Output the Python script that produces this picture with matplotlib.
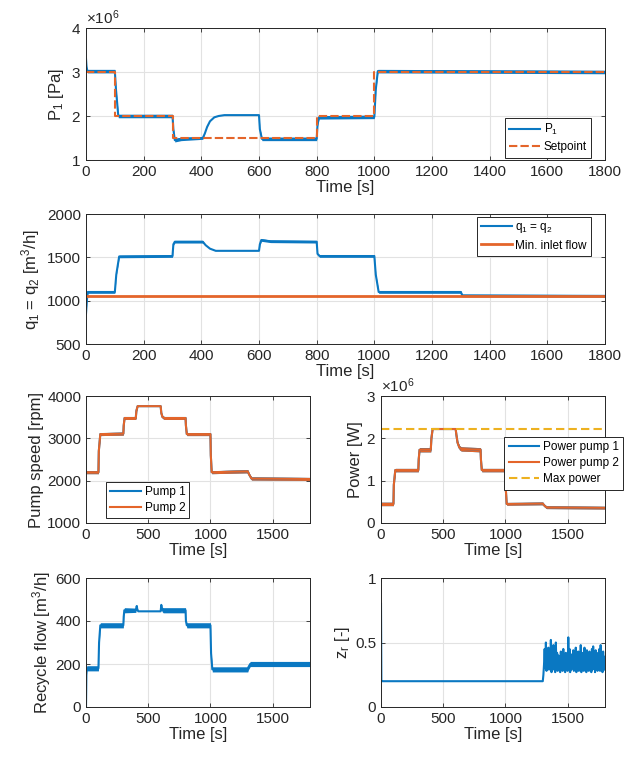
import numpy as np
import matplotlib
matplotlib.use('Agg')
import matplotlib.pyplot as plt
from matplotlib import ticker

plt.rcParams['font.family'] = ['Liberation Sans', 'DejaVu Sans']
plt.rcParams['mathtext.fontset'] = 'custom'
plt.rcParams['mathtext.rm'] = 'Liberation Sans'
plt.rcParams['mathtext.it'] = 'Liberation Sans:italic'
plt.rcParams['mathtext.default'] = 'regular'

BLUE = '#0A78C2'
ORANGE = '#E4652A'
YELLOW = '#EDB120'
INK = '#262626'

# ---- data (breakpoints of each signal) ----
# P1 [x1e6 Pa]
t_p1 = [0, 2, 5, 100, 104, 112, 300, 303, 308, 330, 405, 412, 420, 430, 445, 460, 480, 600, 603, 610, 800, 803, 808, 1000, 1005, 1012, 1800]
p1 = [3.3, 3.1, 3.02, 3.02, 2.6, 2.0, 2.0, 1.7, 1.45, 1.48, 1.5, 1.6, 1.75, 1.88, 1.97, 2.0, 2.02, 2.02, 1.7, 1.48, 1.48, 1.8, 1.97, 1.98, 2.6, 3.02, 3.0]
p1_noise = [0.04, 0.04, 0.04, 0.04, 0.03, 0.04, 0.04, 0.03, 0.04, 0.04, 0.03, 0, 0, 0, 0, 0, 0, 0, 0.03, 0.04, 0.04, 0.03, 0.04, 0.04, 0.03, 0.04, 0.04]
t_sp = [0, 100, 100, 300, 300, 800, 800, 1000, 1000, 1800]
sp = [3, 3, 2, 2, 1.5, 1.5, 2, 2, 3, 3]

# q1 = q2 [m3/h]
t_q = [0, 3, 6, 100, 105, 115, 300, 303, 308, 405, 415, 430, 450, 600, 603, 608, 640, 800, 803, 810, 1000, 1005, 1015, 1300, 1305, 1800]
q = [850, 1000, 1100, 1100, 1300, 1510, 1515, 1650, 1680, 1680, 1640, 1600, 1575, 1575, 1650, 1700, 1685, 1680, 1540, 1515, 1515, 1300, 1100, 1100, 1060, 1055]
q_noise = [0, 15, 15, 15, 10, 15, 15, 10, 15, 15, 0, 0, 0, 0, 10, 15, 15, 15, 10, 15, 15, 10, 15, 15, 15, 15]
t_qmin = [0, 1800]
qmin = [1050, 1050]

# pump speed [rpm], both pumps equal
t_n = [0, 100, 103, 115, 300, 303, 310, 400, 405, 415, 600, 605, 615, 630, 800, 803, 810, 1000, 1003, 1010, 1300, 1310, 1330, 1800]
n = [2200, 2200, 2700, 3100, 3110, 3300, 3480, 3480, 3650, 3760, 3760, 3600, 3500, 3480, 3480, 3300, 3100, 3100, 2600, 2200, 2220, 2150, 2050, 2040]
n_noise = [35, 35, 25, 35, 35, 25, 35, 35, 20, 0, 0, 10, 30, 35, 35, 25, 35, 35, 25, 35, 35, 30, 35, 35]

# power [x1e6 W]
t_w = [0, 100, 103, 115, 300, 303, 310, 400, 405, 415, 600, 605, 615, 630, 645, 800, 803, 810, 1000, 1003, 1010, 1300, 1310, 1330, 1800]
w = [0.45, 0.45, 0.9, 1.25, 1.25, 1.5, 1.73, 1.73, 2.0, 2.22, 2.22, 2.1, 1.9, 1.78, 1.75, 1.73, 1.5, 1.25, 1.25, 0.8, 0.45, 0.46, 0.42, 0.37, 0.36]
w_noise = [0.04, 0.04, 0.03, 0.04, 0.04, 0.03, 0.05, 0.05, 0.02, 0, 0, 0.01, 0.04, 0.05, 0.05, 0.05, 0.03, 0.04, 0.04, 0.03, 0.03, 0.03, 0.03, 0.03, 0.03]
w_max = 2.22

# recycle flow [m3/h]
t_r = [0, 3, 6, 100, 105, 115, 300, 303, 308, 400, 408, 412, 420, 600, 605, 610, 620, 800, 803, 810, 1000, 1005, 1015, 1300, 1305, 1320, 1800]
r = [0, 150, 180, 180, 300, 380, 380, 420, 450, 450, 470, 455, 445, 445, 475, 455, 450, 450, 400, 380, 380, 250, 175, 175, 185, 200, 200]
r_noise = [0, 10, 12, 12, 8, 12, 12, 8, 12, 10, 5, 0, 0, 0, 5, 10, 12, 12, 8, 12, 12, 8, 12, 12, 12, 12, 12]

# z_r [-]
t_z = [0, 3, 6, 1300, 1305] + list(range(1310, 1801, 5))
z = [0.8, 0.2, 0.2, 0.2, 0.25,
     0.33, 0.45, 0.30, 0.50, 0.28, 0.42, 0.31, 0.46, 0.29, 0.40,
     0.33, 0.52, 0.27, 0.44, 0.30, 0.48, 0.29, 0.38, 0.27, 0.50,
     0.30, 0.42, 0.28, 0.40, 0.32, 0.37, 0.27, 0.43, 0.29, 0.41,
     0.28, 0.45, 0.30, 0.39, 0.27, 0.42, 0.31, 0.40, 0.28, 0.54,
     0.30, 0.45, 0.27, 0.41, 0.29, 0.38, 0.31, 0.44, 0.28, 0.40,
     0.30, 0.46, 0.27, 0.39, 0.31, 0.43, 0.28, 0.40, 0.30, 0.48,
     0.27, 0.42, 0.31, 0.38, 0.28, 0.46, 0.30, 0.41, 0.27, 0.44,
     0.31, 0.39, 0.28, 0.43, 0.30, 0.40, 0.27, 0.45, 0.29, 0.47,
     0.30, 0.41, 0.27, 0.44, 0.31, 0.38, 0.28, 0.42, 0.30, 0.45,
     0.28, 0.48, 0.30, 0.40, 0.27, 0.43, 0.31, 0.39, 0.29]

W, H = 633, 759
fig = plt.figure(figsize=(W / 100, H / 100), dpi=100)


def rect(x1, y1, x2, y2):
    return [x1 / W, 1 - y2 / H, (x2 - x1) / W, (y2 - y1) / H]


def style(ax, xticks, yticks, ylim):
    ax.set_xlim(0, 1800)
    ax.set_ylim(*ylim)
    ax.set_xticks(xticks)
    ax.set_yticks(yticks)
    ax.grid(True, color='#e2e2e2', linewidth=0.8)
    ax.set_axisbelow(True)
    ax.tick_params(direction='in', top=True, right=True, length=3,
                   labelsize=11, colors=INK, width=0.6)
    for s in ax.spines.values():
        s.set_color(INK)
        s.set_linewidth(0.7)
    ax.set_xlabel('Time [s]', fontsize=12, color=INK, labelpad=1)


def noisy(ax, t, y, b, color, scale=1.0, **kw):
    t = np.asarray(t, float)
    y = np.asarray(y, float) * scale
    b = np.asarray(b, float) * scale
    ax.fill_between(t, y - b, y + b, color=color, lw=0)
    return ax.plot(t, y, color=color, lw=1.5, **kw)[0]


def sci(ax):
    f = ticker.ScalarFormatter(useMathText=True)
    f.set_powerlimits((-3, 3))
    ax.yaxis.set_major_formatter(f)
    ax.yaxis.get_offset_text().set_fontsize(11)
    ax.yaxis.get_offset_text().set_color(INK)


def legend(ax, handles, labels, loc, anchor):
    lg = ax.legend(handles, labels, loc=loc, bbox_to_anchor=anchor,
                   borderaxespad=0, fontsize=8.5, fancybox=False,
                   framealpha=1, edgecolor=INK, handlelength=2.6,
                   handletextpad=0.3, borderpad=0.35, labelspacing=0.35)
    lg.get_frame().set_linewidth(0.7)
    return lg


ticks_long = list(range(0, 1801, 200))
ticks_short = [0, 500, 1000, 1500]

# panel 1
ax1 = fig.add_axes(rect(86, 28, 605, 160))
h1 = noisy(ax1, t_p1, p1, p1_noise, BLUE, 1e6)
h2, = ax1.plot(t_sp, np.array(sp) * 1e6, color=ORANGE, lw=1.5, ls=(0, (4, 1.5)))
style(ax1, ticks_long, [1e6, 2e6, 3e6, 4e6], (1e6, 4e6))
sci(ax1)
ax1.set_ylabel('P$_1$ [Pa]', fontsize=12, color=INK)
legend(ax1, [h1, h2], ['P$_1$', 'Setpoint'], 'upper right', (0.973, 0.318))

# panel 2
ax2 = fig.add_axes(rect(86, 214, 605, 344))
h1 = noisy(ax2, t_q, q, q_noise, BLUE)
h2, = ax2.plot(t_qmin, qmin, color=ORANGE, lw=2)
style(ax2, ticks_long, [500, 1000, 1500, 2000], (500, 2000))
ax2.set_ylabel('q$_1$ = q$_2$ [m$^3$/h]', fontsize=12, color=INK)
legend(ax2, [h1, h2], ['q$_1$ = q$_2$', 'Min. inlet flow'], 'upper right', (0.973, 0.975))

# panel 3
ax3 = fig.add_axes(rect(86, 396, 310, 523))
h1 = noisy(ax3, t_n, n, n_noise, BLUE)
h2 = noisy(ax3, t_n, n, n_noise, ORANGE)
style(ax3, ticks_short, [1000, 2000, 3000, 4000], (1000, 4000))
ax3.set_ylabel('Pump speed [rpm]', fontsize=12, color=INK, labelpad=2)
legend(ax3, [h1, h2], ['Pump 1', 'Pump 2'], 'lower left', (0.09, 0.04))

# panel 4
ax4 = fig.add_axes(rect(381, 396, 605, 523))
h1 = noisy(ax4, t_w, w, w_noise, BLUE, 1e6)
h2 = noisy(ax4, t_w, w, w_noise, ORANGE, 1e6)
h3 = ax4.axhline(w_max * 1e6, color=YELLOW, lw=1.5, ls=(0, (4, 2)))
style(ax4, ticks_short, [0, 1e6, 2e6, 3e6], (0, 3e6))
sci(ax4)
ax4.set_ylabel('Power [W]', fontsize=12, color=INK, labelpad=2)
legend(ax4, [h1, h2, h3], ['Power pump 1', 'Power pump 2', 'Max power'],
       'upper right', (1.08, 0.677))

# panel 5
ax5 = fig.add_axes(rect(86, 578, 310, 707))
noisy(ax5, t_r, r, r_noise, BLUE)
style(ax5, ticks_short, [0, 200, 400, 600], (0, 600))
ax5.set_ylabel('Recycle flow [m$^3$/h]', fontsize=12, color=INK, labelpad=2)

# panel 6
ax6 = fig.add_axes(rect(381, 578, 605, 707))
ax6.plot(t_z, z, color=BLUE, lw=1.5)
style(ax6, ticks_short, [0, 0.5, 1], (0, 1))
ax6.yaxis.set_major_formatter(ticker.FuncFormatter(lambda v, p: f'{v:g}'))
ax6.set_ylabel('z$_r$ [-]', fontsize=12, color=INK, labelpad=2)

fig.savefig('out.png', dpi=100)
